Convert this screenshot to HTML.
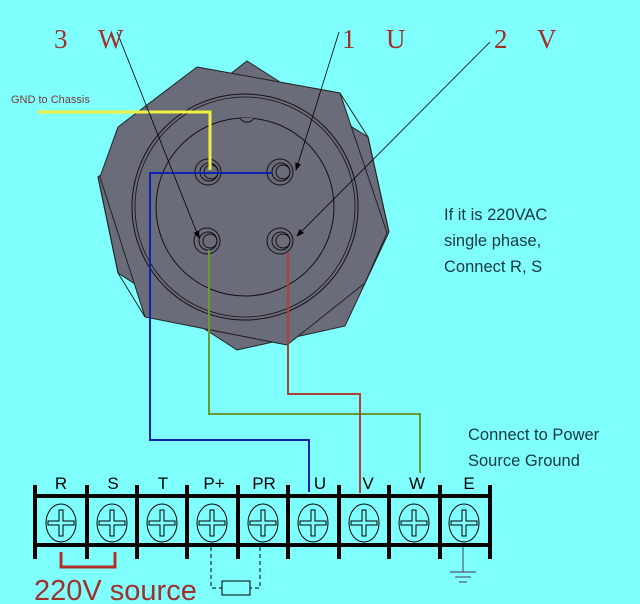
<!DOCTYPE html>
<html><head><meta charset="utf-8"><style>
html,body{margin:0;padding:0;background:#80ffff;}
svg{display:block}
</style></head><body>
<svg width="640" height="604" viewBox="0 0 640 604" xmlns="http://www.w3.org/2000/svg">
<rect width="640" height="604" fill="#80ffff"/>
<defs>
<marker id="ah" markerWidth="8" markerHeight="8" refX="7" refY="3" orient="auto" markerUnits="userSpaceOnUse"><path d="M0,0 L8,3 L0,6 z" fill="#000"/></marker>
<g id="scr"><ellipse cx="0" cy="0" rx="15" ry="19" fill="none" stroke="#000" stroke-width="1"/><path d="M-2,-13 h4 v11 h11 v4 h-11 v11 h-4 v-11 h-11 v-4 h11 z" fill="none" stroke="#000" stroke-width="1"/></g>
</defs>
<!-- connector body -->
<polygon points="247,61 280,82 368,137 389,232 345,326 237,350 118,273 98,177" fill="#6a6d79" stroke="#222" stroke-width="1"/>
<polygon points="197,67 340,93 387,233 365,283 287,345 145,317 100,177 118,127" fill="#6a6d79" stroke="#222" stroke-width="1"/>
<polyline points="340,93 368,137 389,232" fill="none" stroke="#222" stroke-width="1"/>
<polyline points="145,317 118,273 98,177" fill="none" stroke="#222" stroke-width="1"/>
<circle cx="245" cy="207" r="113" fill="none" stroke="#111" stroke-width="1"/>
<circle cx="245" cy="207" r="110" fill="none" stroke="#111" stroke-width="0.8"/>
<circle cx="245" cy="207" r="89" fill="none" stroke="#111" stroke-width="1"/>
<path d="M240,118 a8,8 0 0 0 14,0" fill="#6a6d79" stroke="#111"/>
<g fill="none" stroke="#111" stroke-width="1">
<circle cx="208" cy="172" r="13"/><circle cx="209" cy="172" r="9"/><circle cx="211" cy="172" r="7"/>
<circle cx="280" cy="172" r="13"/><circle cx="281" cy="172" r="9"/><circle cx="283" cy="172" r="7"/>
<circle cx="207" cy="241" r="13"/><circle cx="208" cy="241" r="9"/><circle cx="210" cy="241" r="7"/>
<circle cx="280" cy="241" r="13"/><circle cx="281" cy="241" r="9"/><circle cx="283" cy="241" r="7"/>
</g>
<!-- wires -->
<polyline points="38,112 210,112 210,170" fill="none" stroke="#f0f040" stroke-width="3"/>
<polyline points="272,173 150,173 150,440 309,440 309,492" fill="none" stroke="#1020b0" stroke-width="2"/>
<polyline points="209,250 209,414 420,414 420,473" fill="none" stroke="#6a9a30" stroke-width="2"/>
<polyline points="288,253 288,394 360,394 360,493" fill="none" stroke="#b04030" stroke-width="2"/>
<!-- annotation arrows -->
<line x1="117" y1="32" x2="199" y2="238" stroke="#000" stroke-width="0.8" marker-end="url(#ah)"/>
<line x1="339" y1="32" x2="296" y2="170" stroke="#000" stroke-width="0.8" marker-end="url(#ah)"/>
<line x1="490" y1="42" x2="297" y2="236" stroke="#000" stroke-width="0.8" marker-end="url(#ah)"/>
<!-- labels -->
<g font-family="Liberation Serif, serif" font-size="27" fill="#a0302a">
<text x="54" y="48">3</text><text x="98" y="48">W</text>
<text x="342" y="48">1</text><text x="386" y="48">U</text>
<text x="494" y="48">2</text><text x="537" y="48">V</text>
</g>
<text x="11" y="103" font-family="Liberation Sans, sans-serif" font-size="11" fill="#7a3a30">GND to Chassis</text>
<g font-family="Liberation Sans, sans-serif" font-size="16.5" fill="#163840">
<text x="444" y="220">If it is 220VAC</text>
<text x="444" y="246">single phase,</text>
<text x="444" y="272">Connect R, S</text>
<text x="468" y="440">Connect to Power</text>
<text x="468" y="466">Source Ground</text>
</g>
<!-- terminal block -->
<g stroke="#000" stroke-width="4">
<line x1="35" y1="496" x2="490" y2="496"/>
<line x1="35" y1="545" x2="490" y2="545"/>
<line x1="35" y1="485" x2="35" y2="559"/><line x1="87" y1="485" x2="87" y2="559"/>
<line x1="137" y1="485" x2="137" y2="559"/><line x1="187" y1="485" x2="187" y2="559"/>
<line x1="238" y1="485" x2="238" y2="559"/><line x1="288" y1="485" x2="288" y2="559"/>
<line x1="339" y1="485" x2="339" y2="559"/><line x1="389" y1="485" x2="389" y2="559"/>
<line x1="440" y1="485" x2="440" y2="559"/><line x1="490" y1="485" x2="490" y2="559"/>
</g>
<g font-family="Liberation Sans, sans-serif" font-size="17" fill="#000" text-anchor="middle">
<text x="61" y="489">R</text><text x="113" y="489">S</text><text x="163" y="489">T</text>
<text x="214" y="489">P+</text><text x="264" y="489">PR</text><text x="320" y="489">U</text>
<text x="368" y="489">V</text><text x="417" y="489">W</text><text x="469" y="489">E</text>
</g>
<use href="#scr" x="61" y="523"/><use href="#scr" x="112" y="523"/><use href="#scr" x="162" y="523"/>
<use href="#scr" x="212" y="523"/><use href="#scr" x="263" y="523"/><use href="#scr" x="313" y="523"/>
<use href="#scr" x="364" y="523"/><use href="#scr" x="414" y="523"/><use href="#scr" x="464" y="523"/>
<!-- 220V bracket -->
<polyline points="61,552 61,567 115,567 115,552" fill="none" stroke="#b03028" stroke-width="3"/>
<text x="34" y="600" font-family="Liberation Sans, sans-serif" font-size="29" fill="#a0302a">220V source</text>
<!-- resistor -->
<g stroke="#000" stroke-width="1" fill="none">
<polyline points="211,547 211,588 222,588" stroke-dasharray="4,3"/>
<polyline points="260,547 260,588 250,588" stroke-dasharray="4,3"/>
<rect x="222" y="581" width="28" height="14"/>
</g>
<!-- ground -->
<g stroke="#557" stroke-width="1.2">
<line x1="463" y1="547" x2="463" y2="572"/>
<line x1="450" y1="572" x2="476" y2="572"/>
<line x1="455" y1="577" x2="471" y2="577"/>
<line x1="459" y1="582" x2="467" y2="582"/>
</g>
</svg>
</body></html>
